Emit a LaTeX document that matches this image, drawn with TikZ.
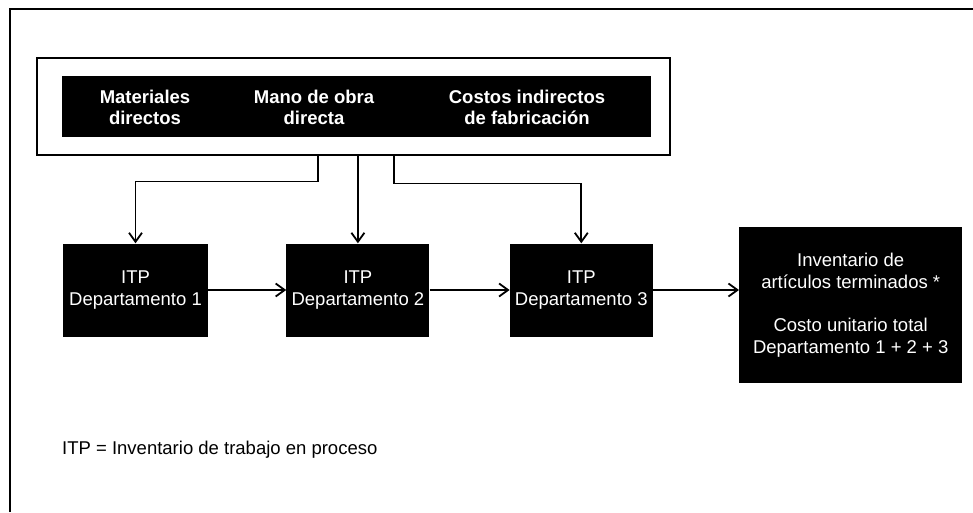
\documentclass[tikz,border=0pt]{standalone}
\usepackage{fontspec}
\setmainfont{Liberation Sans}
\usetikzlibrary{arrows.meta,positioning}
\tikzset{
    %Define standard arrow tip
    >={Straight Barb[length=9pt,width=13pt]},
    %Define style for texts
    rotulo/.style={
           text centered,
           inner sep=0pt,
           font=\fontsize{18.5}{22}\selectfont},
    % Define arrow style
    flecha/.style={
           ->,
           line width=1.8pt,}
}

\begin{document}
\begin{tikzpicture}[x=1pt, y=1pt, node distance=0pt]
	\tikzstyle{depto} = [rectangle, fill=black, text=white, align=center, minimum width=143pt, minimum height=93pt, inner sep=0pt, font=\fontsize{18.5}{22}\selectfont]
	
	\tikzstyle{elemento} = [rectangle, text=white, align=center, inner sep=0pt, font=\fontsize{18.5}{21}\selectfont\bfseries]

	\useasboundingbox (0,0) rectangle (973,-512);
	\draw[line width=2.2pt] (10,-512) |- (973,-9);

	% Cost elements
	\node[draw, line width=1.8pt, minimum width=633pt, minimum height=97pt, inner sep=0pt](costos) at (353.5,-106.5){};
	\node[fill=black, minimum width=589pt, minimum height=61pt, inner sep=0pt](barra) at (356.5,-106.5){};
	\node[elemento](materiales) at (145,-107.5){Materiales\\directos};
	\node[elemento](manoobra) at (314,-107.5){Mano de obra\\directa};
	\node[elemento](indirectos) at (527,-107.5){Costos indirectos\\de fabricación};

	% Departments
	\node[depto, minimum width=145pt](itp1) at (135.5,-290){ITP\\Departamento 1};
	\node[depto, right=78pt of itp1.east, anchor=west](itp2){ITP\\Departamento 2};
	\node[depto, right=80pt of itp2.east, anchor=west](itp3){ITP\\Departamento 3};
	\node[depto, right=86pt of itp3.east, anchor=west, yshift=-15pt, minimum width=223pt, minimum height=156pt](terminados){Inventario de\\artículos terminados *\\[21pt]Costo unitario total\\Departamento 1 + 2 + 3};

	% Flows
	\coordinate (salida1) at (318,-155.5);
	\coordinate (salida3) at (394,-155.5);
	\draw[flecha] (salida1) -- ++(0,-26) -| (itp1.north);
	\draw[flecha] (itp2.north |- costos.south) -- (itp2.north);
	\draw[flecha] (salida3) -- ++(0,-28) -| (itp3.north);
	\draw[flecha] (itp1) -- (itp2);
	\draw[flecha] (itp2) -- (itp3);
	\draw[flecha] (itp3.east) -- (itp3.east -| terminados.west);

	\node[rotulo, anchor=west](nota) at (62,-450){ITP = Inventario de trabajo en proceso};

\end{tikzpicture}
\end{document}
